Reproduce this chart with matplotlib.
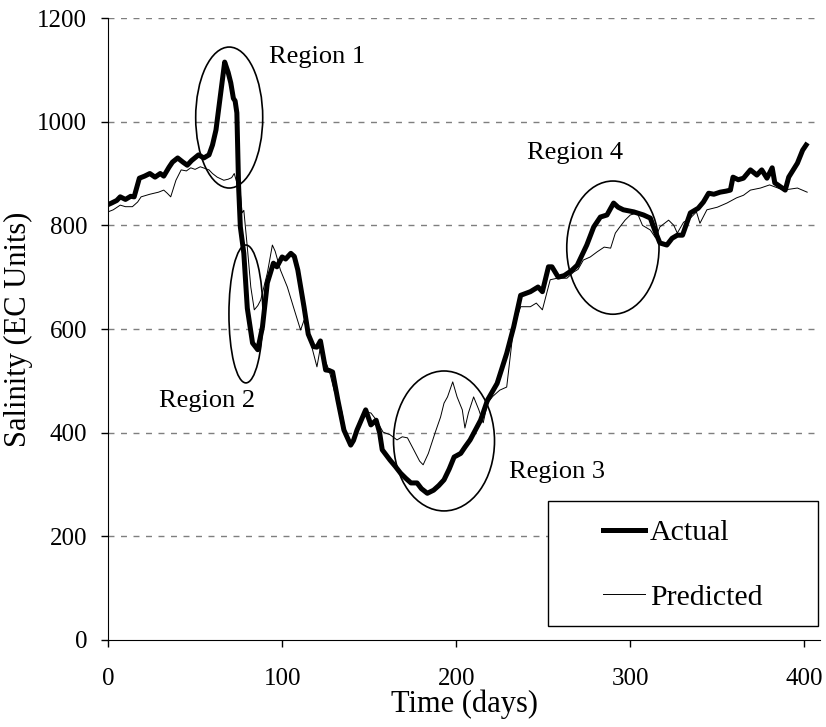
import matplotlib
matplotlib.use("Agg")
import matplotlib.pyplot as plt
from matplotlib.patches import Ellipse, Rectangle

# Actual salinity (thick line)
actual_days = [0, 2, 5, 7, 10, 13, 15, 18, 21, 24, 27, 30, 32, 35, 37, 40, 43, 45.5, 48, 52,
               55, 58, 60, 62, 64.7, 67, 69, 70.5, 72, 73, 74, 75, 76, 78, 80, 83, 86, 88.7,
               91.5, 95, 97, 100, 102, 105, 107, 109, 112.6, 115, 118, 120, 122, 124, 125,
               127, 129, 132, 135.5, 139.4, 141, 143, 148, 150, 151, 154, 156, 157.5, 162,
               165, 168, 171, 174, 177.5, 180, 183.4, 187, 190, 193, 196, 198.8, 202.6, 205,
               208, 211, 214, 218, 223.5, 229, 233, 237, 242.6, 247, 249.5, 253, 255, 258.6,
               262, 266, 269.5, 275, 279, 282.8, 286.6, 290.4, 293, 296, 302, 307.6, 311.5,
               314, 317, 321, 324, 327, 330, 334.5, 339, 342, 345, 348, 351.6, 355, 357.5,
               359, 362, 365, 369, 372.7, 375.5, 378.5, 381.5, 383, 386, 389, 391, 396, 399,
               401]
actual_vals = [840, 843, 848, 855, 850, 856, 855, 891, 895, 900, 893, 900, 895, 912, 922, 930,
               922, 916, 925, 936, 930, 936, 955, 984, 1055, 1115, 1095, 1075, 1045, 1040, 1017,
               875, 797, 746, 640, 573, 560, 604, 689, 727, 720, 739, 735, 746, 740, 714, 642,
               590, 566, 565, 577, 540, 521, 520, 517, 463, 405, 376, 385, 405, 444, 425, 415,
               424, 400, 367, 347, 335, 322, 312, 303, 303, 292, 283, 289, 298, 309, 330, 353,
               360, 372, 386, 405, 424, 463, 495, 553, 604, 665, 672, 681, 672, 720, 720, 700,
               703, 712, 723, 762, 797, 816, 820, 843, 835, 830, 826, 820, 814, 791, 766, 762,
               775, 781, 781, 824, 833, 845, 862, 860, 864, 866, 868, 893, 888, 891, 907, 897,
               907, 891, 911, 882, 875, 868, 893, 920, 945, 955]

# Predicted salinity (thin line)
pred_days = [0, 3, 7, 10, 14, 17, 19, 24, 29, 32, 34, 36, 39, 42, 45, 47.5, 50, 53, 58, 60,
             62.7, 66.5, 69, 71, 72.5, 74, 76, 77, 78, 80, 82, 84, 86, 87.7, 91.5, 94.4, 96, 99,
             103, 107, 110.6, 112.6, 116, 120, 122, 124, 127, 130, 132, 134.5, 136, 139.4, 143,
             148, 151, 154, 158, 162, 166, 169, 172, 175.6, 179, 181, 184, 188, 191, 193, 195,
             198, 200.5, 203.5, 205, 207, 210, 213, 215.5, 218, 221, 225, 229, 233, 237, 242.6,
             246, 249.5, 254, 258, 263.6, 267.5, 270, 273, 277, 281, 285, 288.7, 291.4, 294,
             297, 300, 304, 307, 311.5, 314.5, 317, 322, 325, 327, 330.6, 334.5, 338, 340, 344,
             350, 355.5, 361, 365, 369, 374.8, 380, 384, 388, 392, 396, 401.6]
pred_vals = [826, 830, 839, 836, 836, 845, 855, 860, 864, 868, 862, 855, 887, 907, 905, 911,
             908, 913, 907, 900, 893, 887, 889, 892, 900, 882, 862, 824, 829, 758, 681, 637,
             645, 656, 708, 762, 750, 714, 681, 637, 598, 617, 579, 527, 565, 545, 520, 480,
             470, 438, 405, 380, 405, 440, 438, 425, 401, 396, 386, 392, 390, 367, 345, 338,
             360, 401, 430, 457, 469, 498, 469, 444, 409, 438, 469, 444, 419, 457, 470, 482,
             488, 604, 643, 643, 650, 637, 695, 698, 698, 710, 715, 733, 739, 749, 758, 756,
             785, 797, 810, 820, 824, 800, 791, 776, 797, 810, 800, 785, 806, 814, 826, 804,
             830, 835, 843, 853, 858, 868, 872, 878, 873, 868, 870, 872, 864]

# Highlighted regions: label, ellipse centre (day, value), width (days), height (EC)
region_names = ["Region 1", "Region 2", "Region 3", "Region 4"]
region_centers = [(69.6, 1008), (79.2, 629), (193, 384), (290, 757)]
region_sizes = [(38.5, 272), (19.5, 266), (58, 270), (53, 257)]
region_label_pos = [(120, 1125), (56.7, 461), (258, 324), (268, 940)]

y_ticks = [0, 200, 400, 600, 800, 1000, 1200]
x_ticks = [0, 100, 200, 300, 400]

plt.rcParams["font.family"] = ["Liberation Serif", "DejaVu Serif"]

fig = plt.figure(figsize=(8.26, 7.27), dpi=100)
ax = fig.add_axes([0.1308, 0.1197, 0.862, 0.8555])

ax.plot(actual_days, actual_vals, color="black", linewidth=3.6, label="Actual",
        solid_joinstyle="round", zorder=3)
ax.plot(pred_days, pred_vals, color="black", linewidth=0.7, label="Predicted", zorder=2)

for name, c, s, p in zip(region_names, region_centers, region_sizes, region_label_pos):
    ax.add_patch(Ellipse(c, s[0], s[1], fill=False, edgecolor="black", linewidth=1.2, zorder=4))
    ax.text(p[0], p[1], name, fontsize=19, ha="center", va="center")

ax.set_xlim(0, 409)
ax.set_ylim(0, 1200)
ax.set_xticks(x_ticks)
ax.set_yticks(y_ticks)
ax.tick_params(axis="both", direction="out", length=5, width=1, labelsize=18)
ax.tick_params(axis="x", pad=15)
ax.tick_params(axis="y", pad=10)

for gy in y_ticks[1:]:
    ax.axhline(gy, color="#7f7f7f", linewidth=1, dashes=(4.3, 4.7), zorder=1)

ax.spines["top"].set_visible(False)
ax.spines["right"].set_visible(False)

ax.set_xlabel("Time (days)", fontsize=22, labelpad=0)
ax.set_ylabel("Salinity (EC Units)", fontsize=22, labelpad=3)

# legend box drawn by hand, Excel-style
ax.add_patch(Rectangle((0.618, 0.0225), 0.379, 0.201, transform=ax.transAxes,
                       facecolor="white", edgecolor="black", linewidth=1, zorder=5))
leg = ax.legend(loc="center left", bbox_to_anchor=(0.695, 0.1206), frameon=False,
                fontsize=21.5, handlelength=1.4, handletextpad=0.17, labelspacing=1.27,
                borderpad=0, borderaxespad=0)
leg.set_zorder(6)

fig.savefig("out.png", dpi=100)
